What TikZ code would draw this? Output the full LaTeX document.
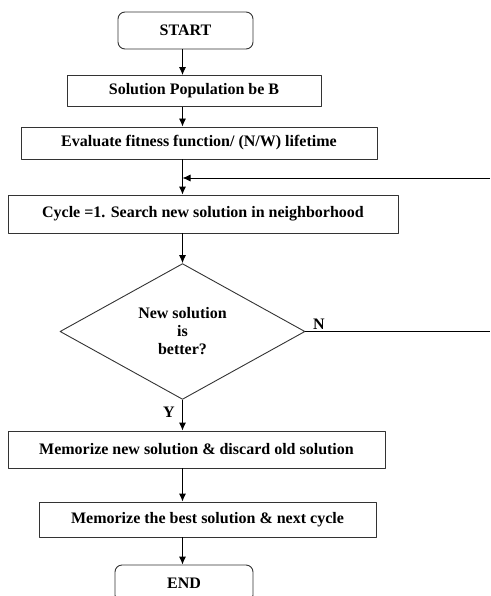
\documentclass[tikz,border=0pt]{standalone}
\usepackage{fontspec}
\setmainfont{Liberation Serif}
\usetikzlibrary{shapes.geometric,arrows.meta}
\begin{document}
\begin{tikzpicture}[x=1pt,y=-1pt,line join=round,>={Latex[length=8pt,width=7pt]},
	font=\fontsize{16}{18}\selectfont\bfseries,
	box/.style={draw=black!80,line width=0.9pt,inner sep=0pt},
	term/.style={box,rounded corners=7pt},
	flow/.style={->,line width=0.9pt}]
	\useasboundingbox (0,0) rectangle (490,596);
	%Start, population, fitness
	\node (start) [term,minimum width=135pt,minimum height=37pt] at (185.5,30.5) {START};
	\node (pop) [box,minimum width=254pt,minimum height=31pt] at (194,91) {Solution Population be B};
	\node (eval) [box,minimum width=356pt,minimum height=32pt] at (199,143) {Evaluate fitness function/ (N/W) lifetime};
	%Search step and test
	\node (cycle) [box,minimum width=390pt,minimum height=38pt] at (203,214) {Cycle =1. Search new solution in neighborhood};
	\node (test) [box,diamond,minimum width=245pt,minimum height=131pt,align=center] at (182.5,331.5) {New solution\\is\\better?};
	\node (no) [anchor=base west,inner sep=0pt] at (313,329) {N};
	\node (yes) [anchor=base west,inner sep=0pt] at (163,417) {Y};
	%Memorize and end
	\node (memo) [box,minimum width=377pt,minimum height=37pt] at (196.5,449.5) {Memorize new solution \& discard old solution};
	\node (best) [box,minimum width=337pt,minimum height=35pt] at (207.5,519.5) {Memorize the best solution \& next cycle};
	\node (end) [term,minimum width=138pt,minimum height=37pt] at (184,583.5) {END};
	%Connectors
	\coordinate (loop) at (490,178);
	\draw[flow] (start.south -| test) -- (pop.north -| test);
	\draw[flow] (pop.south -| test) -- (eval.north -| test);
	\draw[flow] (eval.south -| test) -- (cycle.north -| test);
	\draw[flow] (loop) -- (loop -| test);
	\draw[flow] (cycle.south -| test) -- (test.north);
	\draw[flow] (test.south) -- (memo.north -| test);
	\draw[flow] (memo.south -| test) -- (best.north -| test);
	\draw[flow] (best.south -| test) -- (end.north -| test);
	\draw[line width=0.9pt] (test.east) -- (test.east -| loop);
\end{tikzpicture}
\end{document}
